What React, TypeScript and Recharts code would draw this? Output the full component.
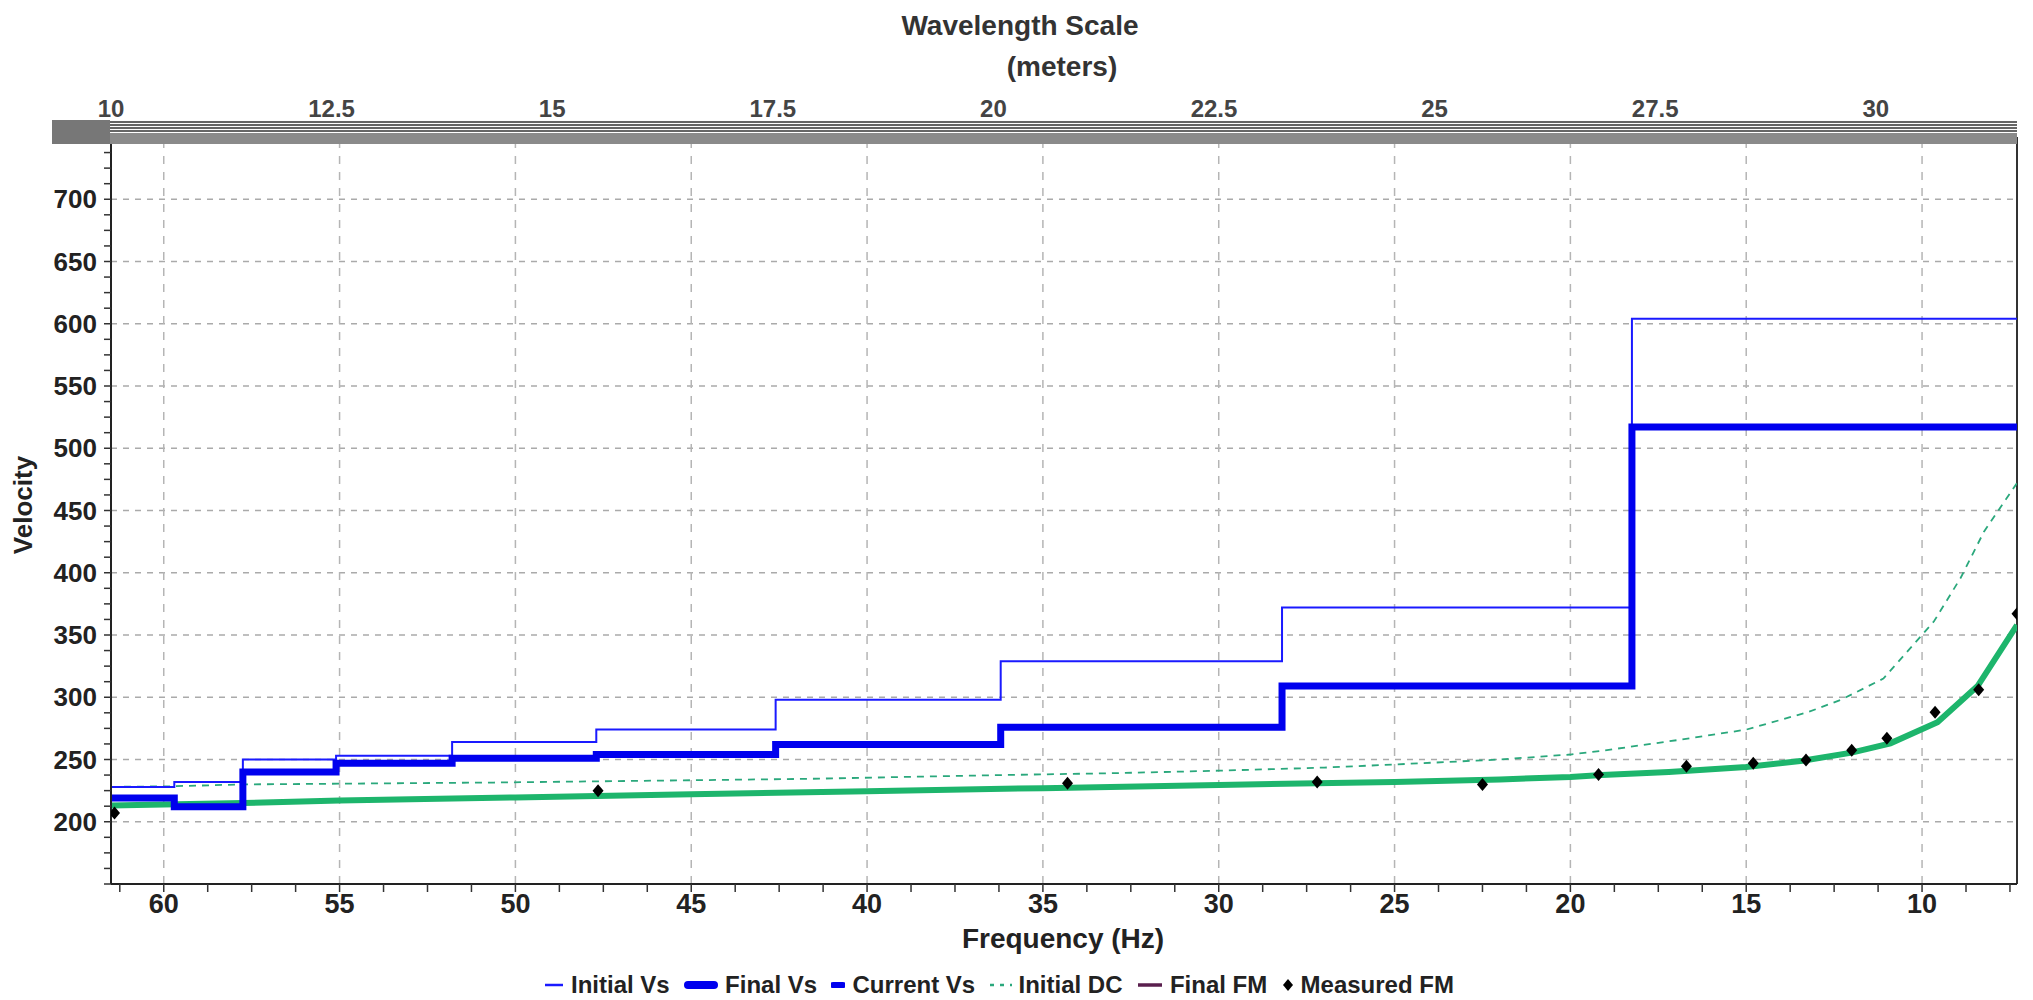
import { ComposedChart, Line, XAxis, YAxis, ReferenceLine } from 'recharts'

// layer boundaries (Hz) shared by the two velocity step profiles
const LAYER_BOUNDS = [61.5, 59.7, 57.75, 55.1, 51.8, 47.7, 42.6, 36.2, 28.2, 18.25, 7.3]
const INITIAL_VS = [228, 232, 250, 253, 264, 274, 298, 329, 372, 604]
const FINAL_VS = [219, 212, 240, 247, 251, 254, 262, 276, 309, 517]

const DC_FREQ = [61.5, 59.8, 57.7, 54, 50.6, 46, 41.6, 36.2, 33, 30, 27, 25, 22, 20, 19.1, 16.85, 15, 13.25, 12.3, 11.1, 10, 9.66, 8.9, 8.24, 7.3]
const INITIAL_DC = [228, 228.5, 230, 230.8, 231.5, 233, 234.5, 237.5, 239, 241, 243.5, 246, 250, 254, 257, 266, 274, 288, 298, 315, 350, 361, 396, 433, 472]

const FINAL_DC_FREQ = [61.5, 57.75, 55, 50, 45, 40, 35, 30, 25, 22, 20, 19.1, 17.2, 15, 13.4, 12, 10.9, 9.56, 8.42, 7.3]
const FINAL_DC = [213, 215, 217, 219.5, 222, 224.5, 227, 229.5, 232, 234, 236, 237.5, 240, 244, 249, 255.5, 263, 280, 309, 358]

const MEASURED_FREQ = [61.4, 47.65, 34.3, 27.2, 22.5, 19.2, 16.7, 14.8, 13.3, 12.0, 11.0, 9.63, 8.39, 7.3]
const MEASURED_FM = [207, 225, 231, 232, 230, 238, 244.5, 247, 249.5, 257.5, 267, 288, 306, 367]

const X_MAJOR = [60, 55, 50, 45, 40, 35, 30, 25, 20, 15, 10]
const Y_MAJOR = [200, 250, 300, 350, 400, 450, 500, 550, 600, 650, 700]

// secondary scale printed above the plot, linear across the plot width
const TOP_DOMAIN = [10, 31.6]
const TOP_TICKS = [10, 12.5, 15, 17.5, 20, 22.5, 25, 27.5, 30]

const LEGEND_ITEMS = ['Initial Vs', 'Final Vs', 'Current Vs', 'Initial DC', 'Final FM', 'Measured FM']

const FONT = '"Liberation Sans", Arial, sans-serif'
const PLOT_LEFT = 111
const PLOT_RIGHT = 2017

const steps = (bounds: number[], vals: number[]) => {
  const out: { f: number; v: number }[] = []
  vals.forEach((v, i) => {
    out.push({ f: bounds[i], v })
    out.push({ f: bounds[i + 1], v })
  })
  return out
}
const pairs = (fs: number[], vs: number[]) => fs.map((f, i) => ({ f, v: vs[i] }))

const initialVs = steps(LAYER_BOUNDS, INITIAL_VS)
const finalVs = steps(LAYER_BOUNDS, FINAL_VS)
const initialDc = pairs(DC_FREQ, INITIAL_DC)
const finalDc = pairs(FINAL_DC_FREQ, FINAL_DC)
const measured = pairs(MEASURED_FREQ, MEASURED_FM)

const xTicks: number[] = []
for (let f = 61.25; f >= 7.5; f -= 1.25) xTicks.push(f)
const yTicks: number[] = []
for (let v = 150; v <= 750; v += 12.5) yTicks.push(v)

const topX = (t: number) =>
  PLOT_LEFT + ((t - TOP_DOMAIN[0]) / (TOP_DOMAIN[1] - TOP_DOMAIN[0])) * (PLOT_RIGHT - PLOT_LEFT)

const XTick = ({ x, y, payload }: any) => {
  const major = X_MAJOR.includes(payload.value)
  return (
    <g>
      <line x1={x} x2={x} y1={y} y2={y + 8} stroke="#333" strokeWidth={1.5} />
      {major && (
        <text x={x} y={y + 29} textAnchor="middle" fontSize={27} fontWeight="bold" fill="#222" fontFamily={FONT}>
          {payload.value}
        </text>
      )}
    </g>
  )
}

const YTick = ({ x, y, payload }: any) => {
  const major = Y_MAJOR.includes(payload.value)
  return (
    <g>
      <line x1={x - 7} x2={x} y1={y} y2={y} stroke="#333" strokeWidth={1.5} />
      {major && (
        <text x={x - 14} y={y + 9} textAnchor="end" fontSize={26} fontWeight="bold" fill="#222" fontFamily={FONT}>
          {payload.value}
        </text>
      )}
    </g>
  )
}

const Diamond = ({ cx, cy }: any) => {
  if (cx == null || cy == null) return null
  return <path d={`M${cx},${cy - 6.5} L${cx + 5.5},${cy} L${cx},${cy + 6.5} L${cx - 5.5},${cy} Z`} fill="#000" />
}

const LegendIcon = ({ name }: { name: string }) => {
  switch (name) {
    case 'Initial Vs':
      return <svg width={20} height={20}><line x1={1} x2={19} y1={10} y2={10} stroke="#1a1aff" strokeWidth={2.5} /></svg>
    case 'Final Vs':
      return <svg width={34} height={20}><line x1={4} x2={30} y1={10} y2={10} stroke="#0000ee" strokeWidth={8} strokeLinecap="round" /></svg>
    case 'Current Vs':
      return <svg width={14} height={20}><line x1={2} x2={12} y1={10} y2={10} stroke="#0000ee" strokeWidth={6} strokeLinecap="round" /></svg>
    case 'Initial DC':
      return <svg width={22} height={20}><line x1={0} x2={22} y1={10} y2={10} stroke="#2aa87c" strokeWidth={2.5} strokeDasharray="4 6" /></svg>
    case 'Final FM':
      return <svg width={26} height={20}><line x1={1} x2={25} y1={10} y2={10} stroke="#5a1f4e" strokeWidth={3.5} /></svg>
    default:
      return <svg width={12} height={20}><path d="M6,4 L11,10 L6,16 L1,10 Z" fill="#000" /></svg>
  }
}

export default function App() {
  return (
    <div style={{ position: 'absolute', left: 0, top: 0, width: 2033, height: 1000, background: '#fff', fontFamily: FONT }}>
      <ComposedChart width={2033} height={1000} margin={{ top: 137, right: 16, bottom: 0, left: 0 }}>
        <XAxis
          dataKey="f"
          type="number"
          domain={[7.3, 61.5]}
          reversed
          allowDataOverflow
          ticks={xTicks}
          interval={0}
          tickSize={0}
          tickMargin={0}
          tick={<XTick />}
          axisLine={{ stroke: '#222', strokeWidth: 2 }}
          tickLine={false}
          height={116}
        />
        <YAxis
          dataKey="v"
          type="number"
          domain={[150, 750]}
          allowDataOverflow
          ticks={yTicks}
          interval={0}
          tickSize={0}
          tickMargin={0}
          tick={<YTick />}
          axisLine={{ stroke: '#222', strokeWidth: 2 }}
          tickLine={false}
          width={111}
        />
        {Y_MAJOR.map((v) => (
          <ReferenceLine key={'h' + v} y={v} stroke="#aaa" strokeWidth={1.5} strokeDasharray="6 6" />
        ))}
        {X_MAJOR.map((f) => (
          <ReferenceLine key={'v' + f} x={f} stroke="#b5b5b5" strokeWidth={1.5} strokeDasharray="8 8" />
        ))}
        <ReferenceLine x={7.3} stroke="#333" strokeWidth={2} />

        <Line data={initialDc} dataKey="v" stroke="#2aa87c" strokeWidth={1.8} strokeDasharray="7 6" dot={false} isAnimationActive={false} />
        <Line data={finalDc} dataKey="v" stroke="#1db56c" strokeWidth={6} dot={false} isAnimationActive={false} />
        <Line data={initialVs} dataKey="v" stroke="#1a1aff" strokeWidth={2} dot={false} isAnimationActive={false} />
        <Line data={finalVs} dataKey="v" stroke="#0000ee" strokeWidth={7} dot={false} isAnimationActive={false} />
        <Line data={measured} dataKey="v" stroke="none" dot={<Diamond />} activeDot={false} isAnimationActive={false} />
      </ComposedChart>

      <svg width={2033} height={1000} style={{ position: 'absolute', left: 0, top: 0, pointerEvents: 'none' }}>
        {/* top scale band */}
        {[122, 125, 128, 131].map((y) => (
          <line key={y} x1={52} x2={PLOT_RIGHT} y1={y} y2={y} stroke="#333" strokeWidth={1.5} />
        ))}
        <rect x={52} y={133} width={PLOT_RIGHT - 52} height={11} fill="#8a8a8a" />
        <rect x={52} y={120} width={58} height={24} fill="#777" />
        {TOP_TICKS.map((t) => (
          <text key={t} x={topX(t)} y={117} textAnchor="middle" fontSize={24} fontWeight="bold" fill="#444" fontFamily={FONT}>
            {t}
          </text>
        ))}

        <text x={1020} y={35} textAnchor="middle" fontSize={28} fontWeight="bold" fill="#333" fontFamily={FONT}>
          Wavelength Scale
        </text>
        <text x={1062} y={76} textAnchor="middle" fontSize={28} fontWeight="bold" fill="#333" fontFamily={FONT}>
          (meters)
        </text>

        <text x={1063} y={948} textAnchor="middle" fontSize={28} fontWeight="bold" fill="#222" fontFamily={FONT}>
          Frequency (Hz)
        </text>
        <text
          x={0}
          y={0}
          transform="translate(32,505) rotate(-90)"
          textAnchor="middle"
          fontSize={26}
          fontWeight="bold"
          fill="#222"
          fontFamily={FONT}
        >
          Velocity
        </text>
      </svg>

      <div
        style={{
          position: 'absolute',
          left: 544,
          width: 910,
          top: 971,
          display: 'flex',
          justifyContent: 'space-between',
          alignItems: 'center',
          fontSize: 24,
          fontWeight: 'bold',
          color: '#222',
          whiteSpace: 'nowrap',
        }}
      >
        {LEGEND_ITEMS.map((name) => (
          <div key={name} style={{ display: 'flex', alignItems: 'center', gap: 7 }}>
            <LegendIcon name={name} />
            <span>{name}</span>
          </div>
        ))}
      </div>
    </div>
  )
}
